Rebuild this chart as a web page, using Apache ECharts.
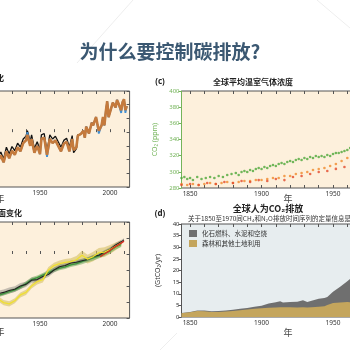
<!DOCTYPE html>
<html>
<head>
<meta charset="utf-8">
<script src="https://cdn.jsdelivr.net/npm/echarts@6/dist/echarts.min.js"></script>
<style>
html, body { margin: 0; padding: 0; background: #fff; }
#main { width: 350px; height: 350px; }
</style>
</head>
<body>
<div id="main"></div>
<script>
// (a) temperature anomaly, three datasets
var tempYears = [1914,1916,1918,1920,1922,1924,1926,1928,1930,1932,
	1934,1936,1938,1940,1941,1943,1944,1946,1948,1950,
	1951,1953,1955,1957,1959,1961,1963,1965,1967,1969,
	1971,1973,1974,1976,1977,1979,1981,1982,1983,1985,
	1987,1988,1990,1992,1994,1995,1996,1997,1998,1999,
	2001,2002,2003,2004,2005,2006,2007,2008,2009,2010,
	2011,2012];
var tempOrange = [-0.38,-0.45,-0.36,-0.42,-0.34,-0.44,-0.28,-0.38,-0.27,-0.33,
	-0.22,-0.28,-0.16,-0.12,-0.04,-0.20,-0.10,-0.30,-0.20,-0.32,
	-0.10,-0.08,-0.33,-0.10,-0.16,-0.12,-0.20,-0.28,-0.17,-0.14,
	-0.28,-0.10,-0.26,-0.22,-0.05,-0.03,0.02,-0.08,0.08,-0.02,
	0.14,0.10,0.22,0.02,0.10,0.22,0.10,0.30,0.45,0.22,
	0.36,0.43,0.44,0.36,0.47,0.42,0.44,0.32,0.44,0.48,
	0.32,0.38];
var tempBlue = [-0.38,-0.45,-0.36,-0.42,-0.34,-0.44,-0.28,-0.38,-0.27,-0.33,
	-0.22,-0.28,-0.16,-0.12,0.00,-0.20,-0.10,-0.30,-0.20,-0.32,
	-0.10,-0.08,-0.36,-0.10,-0.16,-0.12,-0.20,-0.28,-0.17,-0.14,
	-0.28,-0.10,-0.26,-0.22,-0.05,-0.03,0.02,-0.08,0.08,-0.02,
	0.14,0.10,0.22,-0.02,0.10,0.22,0.10,0.30,0.45,0.22,
	0.36,0.43,0.44,0.36,0.47,0.42,0.44,0.28,0.44,0.48,
	0.28,0.38];
var tempBlack = [-0.34,-0.40,-0.31,-0.37,-0.29,-0.39,-0.22,-0.32,-0.21,-0.27,
	-0.16,-0.22,-0.10,-0.06,0.02,-0.14,-0.04,-0.24,-0.14,-0.26,
	-0.04,-0.02,-0.28,-0.04,-0.10,-0.06,-0.14,-0.22,-0.12,-0.09,
	-0.22,-0.05,-0.30,-0.24,-0.04,-0.03,0.02,-0.08,0.08,-0.02,
	0.14,0.10,0.22,0.02,0.10,0.22,0.10,0.30,0.45,0.22,
	0.36,0.43,0.44,0.36,0.47,0.42,0.44,0.32,0.44,0.48,
	0.32,0.38];

// (b) sea level change (m)
var seaYears = [1900,1904,1908,1912,1916,1920,1924,1928,1932,1936,
	1940,1944,1948,1952,1956,1960,1964,1968,1972,1976,
	1980,1984,1988,1992,1996,2000,2004,2008,2010];
var seaBlack = [-0.144,-0.140,-0.138,-0.133,-0.131,-0.124,-0.120,-0.114,-0.110,-0.100,
	-0.095,-0.082,-0.080,-0.070,-0.064,-0.050,-0.040,-0.036,-0.028,-0.026,
	-0.021,-0.017,-0.008,-0.004,0.006,0.015,0.028,0.038,0.044];
var seaGreen = [-0.150,-0.146,-0.140,-0.138,-0.134,-0.130,-0.124,-0.118,-0.112,-0.104,
	-0.092,-0.080,-0.074,-0.066,-0.058,-0.050,-0.044,-0.040,-0.034,-0.030,
	-0.024,-0.018,-0.012,-0.006,0.002,0.010,0.022,0.030,null];
var seaYellow = [-0.160,-0.158,-0.150,-0.145,-0.150,-0.140,-0.152,-0.156,-0.146,-0.128,
	-0.120,-0.100,-0.086,-0.080,-0.050,-0.036,-0.030,-0.026,-0.024,-0.018,
	-0.004,-0.016,-0.008,0.004,0.006,0.014,0.024,0.034,null];
var seaGrayErr = [0.009,0.009,0.009,0.009,0.009,0.009,0.009,0.009,0.009,0.009,
	0.008,0.008,0.008,0.008,0.008,0.008,0.008,0.008,0.008,0.008,
	0.006,0.006,0.006,0.006,0.006,0.006,0.006,0.006,0.005];
var seaGreenErr = [0.006,0.006,0.006,0.006,0.006,0.006,0.006,0.006,0.006,0.006,
	0.007,0.007,0.007,0.007,0.007,0.007,0.007,0.007,0.007,0.007,
	0.008,0.008,0.008,0.008,0.008,0.008,0.008,0.008,null];
var seaYellowErr = [0.008,0.008,0.008,0.008,0.008,0.008,0.008,0.008,0.008,0.008,
	0.008,0.008,0.009,0.009,0.009,0.009,0.010,0.010,0.011,0.012,
	0.014,0.014,0.015,0.015,0.015,0.014,0.012,0.010,null];
var satYears = [1993,1996,1999,2002,2005,2008,2010];
var satRed = [-0.008,0.000,0.008,0.018,0.026,0.034,0.040];

// (c) greenhouse gas concentrations
var co2Years = [1844,1846,1848,1850,1852,1855,1858,1861,1864,1867,
	1870,1873,1876,1879,1882,1884,1886,1888,1890,1892,
	1894,1896,1898,1900,1902,1904,1906,1908,1910,1912,
	1914,1916,1918,1920,1922,1924,1926,1928,1930,1932,
	1934,1936,1938,1940,1942,1944,1946,1948,1950,1952,
	1954,1956,1958,1960,1962,1964];
var co2Vals = [292.4,293.6,291.1,292.4,289.9,293.6,291.1,292.4,293.6,292.4,
	294.8,293.6,296.1,297.3,298.6,296.1,299.8,301.0,299.8,302.3,
	301.0,303.5,304.7,303.5,306.0,304.7,307.2,308.5,307.2,309.7,
	310.9,309.7,312.2,313.4,312.2,314.6,315.9,314.6,317.1,315.9,
	318.3,317.1,319.6,318.3,319.6,318.3,320.8,319.6,322.1,323.3,
	323.3,324.5,325.8,327.0,329.5,332.0];
var ch4Years = [1844,1848,1852,1856,1860,1864,1868,1872,1876,1880,
	1884,1888,1892,1896,1900,1904,1908,1912,1916,1920,
	1924,1928,1932,1936,1940,1944,1948,1952,1956,1960,1964];
var ch4Vals = [749,737,749,737,749,762,749,762,774,762,
	774,787,787,799,799,811,824,824,848,848,
	873,886,898,923,935,947,972,997,1034,1071,1108];
var n2oYears = [1844,1850,1856,1862,1868,1874,1880,1886,1892,1898,
	1904,1910,1916,1922,1928,1934,1940,1946,1952,1958,1964];
var n2oVals = [271.9,272.5,271.9,273.1,272.5,273.7,273.1,274.3,273.7,274.9,
	274.3,275.6,274.9,276.8,277.4,278.7,279.9,280.5,281.8,283.0,283.6];

// (d) anthropogenic CO2 emissions (GtCO2/yr)
var emYears = [1844,1850,1855,1860,1865,1870,1875,1880,1885,1890,
	1895,1900,1905,1910,1913,1915,1920,1925,1929,1932,
	1935,1940,1944,1946,1950,1955,1960,1965,1970,1980,
	1990,2000,2010];
var emFolu = [1.6,2.0,2.6,2.5,2.2,2.2,2.4,2.6,2.9,3.2,
	3.6,3.8,4.0,4.1,4.2,4.2,4.2,4.1,4.2,4.1,
	4.2,4.4,4.6,5.2,6.0,6.2,6.4,6.2,6.0,5.5,
	5.5,4.5,5.0];
var emFossil = [0.1,0.2,0.2,0.3,0.3,0.4,0.4,0.5,0.6,0.7,
	0.8,1.0,1.8,2.2,2.6,2.0,2.2,2.5,3.0,2.4,
	2.8,3.4,3.6,3.4,4.9,6.8,9.0,11.8,14.5,19.0,
	22.0,25.0,32.0];

var decadeTicks = [1850,1860,1870,1880,1890,1900,1910,1920,1930,1940,1950,1960,1970,1980,1990,2000,2010];
var labelYears = [1850,1900,1950,2000];
var legendNames = ['化石燃料、水泥和空烧', '森林和其他土地利用'];

function pair(xs, ys) {
	return xs.map(function(x, i) { return [x, ys[i]]; });
}

var FONT = "'Noto Sans', 'Noto Sans CJK SC', sans-serif";
var CJK = "'Noto Sans CJK SC', sans-serif";
var GREEN = '#74b45a';

function bottomAxis(grid, min, max) {
	return {
		gridIndex: grid, type: 'value', position: 'bottom', min: min, max: max,
		axisLine: { show: false },
		axisTick: { inside: true, length: 3, lineStyle: { color: '#555' }, customValues: decadeTicks },
		axisLabel: { fontSize: 6.5, color: '#333', margin: 3, customValues: labelYears,
			formatter: function(v) { return String(v); } },
		splitLine: { show: false }
	};
}
function topAxis(grid, min, max) {
	return {
		gridIndex: grid, type: 'value', position: 'top', min: min, max: max,
		axisLine: { show: false },
		axisTick: { inside: true, length: 3, lineStyle: { color: '#555' }, customValues: decadeTicks },
		axisLabel: { show: false },
		splitLine: { show: false }
	};
}
// uncertainty band drawn as one polygon through the axis scales
function band(xi, yi, xs, vals, err, color) {
	var rows = [];
	xs.forEach(function(x, i) {
		if (vals[i] != null) rows.push([x, vals[i] - err[i], vals[i] + err[i]]);
	});
	return {
		type: 'custom', xAxisIndex: xi, yAxisIndex: yi, z: 1, silent: true, clip: true,
		encode: { x: 0, y: [1, 2] },
		data: rows,
		renderItem: function(params, api) {
			if (params.dataIndex !== 0) return null;
			var up = [], lo = [];
			rows.forEach(function(r) {
				up.push(api.coord([r[0], r[2]]));
				lo.push(api.coord([r[0], r[1]]));
			});
			return { type: 'polygon', shape: { points: up.concat(lo.reverse()) }, style: { fill: color } };
		}
	};
}
function plainLine(xi, yi, xs, vals, color, width, z) {
	return { type: 'line', xAxisIndex: xi, yAxisIndex: yi, symbol: 'none',
		lineStyle: { color: color, width: width }, data: pair(xs, vals), z: z };
}
function dots(yi, xs, vals, color) {
	return { type: 'scatter', xAxisIndex: 4, yAxisIndex: yi, symbolSize: 2.6,
		itemStyle: { color: color }, data: pair(xs, vals), z: 3 };
}

var series = [];
// (a)
series.push(plainLine(0, 0, tempYears, tempBlack, '#111', 1.3, 2));
series.push(plainLine(0, 0, tempYears, tempBlue, '#3f8fd4', 1.8, 3));
series.push(plainLine(0, 0, tempYears, tempOrange, '#c57a3c', 2.6, 4));
// (b)
series.push(band(2, 1, seaYears, seaYellow, seaYellowErr, 'rgba(214,192,100,0.6)'));
series.push(band(2, 1, seaYears, seaGreen, seaGreenErr, 'rgba(110,170,90,0.55)'));
series.push(band(2, 1, seaYears, seaBlack, seaGrayErr, 'rgba(110,110,110,0.4)'));
series.push(plainLine(2, 1, seaYears, seaGreen, '#3a9a3a', 1.3, 3));
series.push(plainLine(2, 1, seaYears, seaBlack, '#222', 1.1, 3));
series.push(plainLine(2, 1, seaYears, seaYellow, '#f0e030', 1.3, 4));
series.push(plainLine(2, 1, satYears, satRed, '#d42a20', 1.4, 5));
// (c)
series.push(dots(2, co2Years, co2Vals, '#4ea83a'));
series.push(dots(3, ch4Years, ch4Vals, '#f08a2c'));
series.push(dots(4, n2oYears, n2oVals, '#e2482a'));
// (d) fossil sits on top of land use: draw the total first, land use over it
var emTotal = emFolu.map(function(v, i) { return v + emFossil[i]; });
series.push({ name: legendNames[0], type: 'line', xAxisIndex: 6, yAxisIndex: 5, symbol: 'none',
	color: '#6f6f6f', itemStyle: { color: '#6f6f6f' },
	lineStyle: { width: 0 }, areaStyle: { color: '#6f6f6f', opacity: 1 }, data: pair(emYears, emTotal), z: 2 });
series.push({ name: legendNames[1], type: 'line', xAxisIndex: 6, yAxisIndex: 5, symbol: 'none',
	color: '#c4a55c', itemStyle: { color: '#c4a55c' },
	lineStyle: { width: 0 }, areaStyle: { color: '#c4a55c', opacity: 1 }, data: pair(emYears, emFolu), z: 3 });

function txt(x, y, text, font, fill, align) {
	return { type: 'text', x: x, y: y, silent: true,
		style: { text: text, font: font, fill: fill || '#222', align: align || 'center', verticalAlign: 'middle' } };
}

var gridBase = { show: true, borderColor: '#555', borderWidth: 1, containLabel: false, outerBoundsMode: 'none' };
function mkGrid(left, top, width, height, bg) {
	return Object.assign({}, gridBase, { left: left, top: top, width: width, height: height, backgroundColor: bg });
}

var chart = echarts.init(document.getElementById('main'), null, { renderer: 'canvas' });
chart.setOption({
	animation: false,
	backgroundColor: '#ffffff',
	textStyle: { fontFamily: FONT },
	grid: [
		mkGrid(-100, 91, 229.6, 96, '#fdf0dc'),
		mkGrid(-100, 222, 229.6, 96, '#fdf0dc'),
		mkGrid(181.5, 91, 243, 97, '#fdf0dc'),
		mkGrid(181.5, 224, 243, 93, '#e7edef')
	],
	xAxis: [
		bottomAxis(0, 1850, 2014), topAxis(0, 1850, 2014),
		bottomAxis(1, 1850, 2014), topAxis(1, 1850, 2014),
		bottomAxis(2, 1844, 2014), topAxis(2, 1844, 2014),
		bottomAxis(3, 1844, 2014), topAxis(3, 1844, 2014)
	],
	yAxis: [
		{ gridIndex: 0, type: 'value', position: 'right', min: -0.8, max: 0.6, interval: 0.2,
			axisLine: { show: false }, axisLabel: { show: false }, splitLine: { show: false },
			axisTick: { inside: true, length: 3, lineStyle: { color: '#555' } } },
		{ gridIndex: 1, type: 'value', position: 'right', min: -0.2, max: 0.1, interval: 0.05,
			axisLine: { show: false }, axisLabel: { show: false }, splitLine: { show: false },
			axisTick: { inside: true, length: 3, lineStyle: { color: '#555' } } },
		{ gridIndex: 2, type: 'value', position: 'left', min: 280, max: 400, interval: 20,
			axisLine: { show: true, lineStyle: { color: GREEN, width: 1 } },
			axisTick: { show: true, length: 3, lineStyle: { color: GREEN } },
			axisLabel: { color: GREEN, fontSize: 6, margin: 2 },
			splitLine: { show: false },
			name: 'CO₂ (ppm)', nameLocation: 'middle', nameGap: 19,
			nameTextStyle: { color: GREEN, fontSize: 7 } },
		{ gridIndex: 2, type: 'value', show: false, min: 700, max: 1900 },
		{ gridIndex: 2, type: 'value', show: false, min: 270, max: 330 },
		{ gridIndex: 3, type: 'value', position: 'left', min: 0, max: 40, interval: 5,
			axisLine: { show: true, lineStyle: { color: '#555', width: 1 } },
			axisTick: { show: true, length: 3, lineStyle: { color: '#555' } },
			axisLabel: { color: '#333', fontSize: 6, margin: 2 },
			splitLine: { show: false },
			name: '(GtCO₂/yr)', nameLocation: 'middle', nameGap: 17,
			nameTextStyle: { color: '#333', fontSize: 7 } }
	],
	legend: {
		data: legendNames, left: 189, top: 230, orient: 'vertical', icon: 'rect',
		itemWidth: 8, itemHeight: 7, itemGap: 3, padding: 0,
		textStyle: { fontSize: 6.5, color: '#333', fontFamily: CJK }
	},
	graphic: [
		{ type: 'line', silent: true, z: -1, shape: { x1: 133, y1: 0, x2: 77, y2: 63 }, style: { stroke: '#eeeeee', lineWidth: 1 } },
		{ type: 'line', silent: true, z: -1, shape: { x1: 317, y1: 0, x2: 350, y2: 28 }, style: { stroke: '#eeeeee', lineWidth: 1 } },
		{ type: 'line', silent: true, z: -1, shape: { x1: 177, y1: 333, x2: 160, y2: 350 }, style: { stroke: '#eeeeee', lineWidth: 1 } },
		txt(170, 52, '为什么要控制碳排放?', 'bold 19px ' + CJK, '#3b5872'),
		txt(4, 78, '温度变化', 'bold 8px ' + CJK, '#222', 'right'),
		txt(22, 213, '全球平均海平面变化', 'bold 8px ' + CJK, '#222', 'right'),
		txt(160, 82, '(c)', 'bold 8px ' + FONT, '#222'),
		txt(253, 82, '全球平均温室气体浓度', 'bold 8px ' + CJK, '#222'),
		txt(160, 214, '(d)', 'bold 8px ' + FONT, '#222'),
		txt(268, 209, '全球人为CO₂排放', 'bold 9px ' + CJK, '#222'),
		txt(188, 218.5, '关于1850至1970间CH₄和N₂O排放时间序列的定量信息是有限的', '6.5px ' + CJK, '#333', 'left'),
		txt(288, 199, '年', '9px ' + CJK, '#444'),
		txt(288, 333, '年', '9px ' + CJK, '#444'),
		txt(0, 199, '年', '9px ' + CJK, '#444'),
		txt(0, 332, '年', '9px ' + CJK, '#444')
	],
	series: series
});
</script>
</body>
</html>
